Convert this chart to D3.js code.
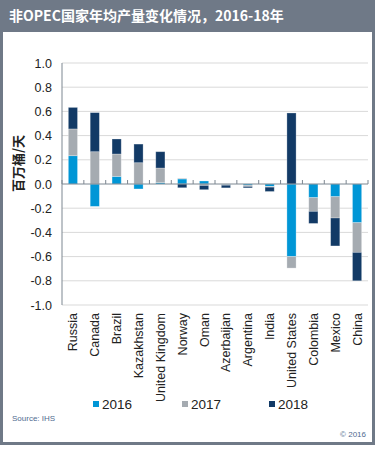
<!DOCTYPE html>
<html>
<head>
    <meta charset="utf-8">
    <script src="https://d3js.org/d3.v7.min.js"></script>
    <style>
        body { margin: 0; background: #fff; }
        text { font-family: "Liberation Sans", Arial, "Noto Sans CJK SC", sans-serif; }
    </style>
</head>
<body>
    <svg id="chart"></svg>

    <script>
        // Data (million barrels per day)
        const countries = ["Russia", "Canada", "Brazil", "Kazakhstan", "United Kingdom", "Norway", "Oman",
            "Azerbaijan", "Argentina", "India", "United States", "Colombia", "Mexico", "China"];
        const years = ["2016", "2017", "2018"];
        const v2016 = [0.234, -0.185, 0.063, -0.041, 0.011, 0.042, 0.025, -0.004, -0.010, -0.020, -0.600, -0.113, -0.105, -0.320];
        const v2017 = [0.221, 0.267, 0.185, 0.176, 0.121, 0.005, -0.012, -0.006, -0.010, -0.006, -0.095, -0.113, -0.176, -0.245];
        const v2018 = [0.178, 0.323, 0.124, 0.154, 0.135, -0.031, -0.035, -0.022, -0.012, -0.036, 0.587, -0.100, -0.231, -0.235];
        const yTicks = [1.0, 0.8, 0.6, 0.4, 0.2, 0.0, -0.2, -0.4, -0.6, -0.8, -1.0];
        const colors = ["#0096d6", "#a5abb1", "#123a66"];

        const width = 377, height = 452;
        const svg = d3.select("#chart")
            .attr("width", width)
            .attr("height", height);

        // Frame and title bar
        const frameColor = "#6f7987";
        svg.append("rect")
            .attr("x", 1.5).attr("y", 1.5)
            .attr("width", 372).attr("height", 442)
            .attr("fill", "#fff")
            .attr("stroke", frameColor)
            .attr("stroke-width", 3);
        svg.append("rect")
            .attr("x", 0).attr("y", 0)
            .attr("width", 375).attr("height", 32)
            .attr("fill", frameColor);
        svg.append("text")
            .attr("x", 9).attr("y", 21)
            .attr("fill", "#fff")
            .style("font-size", "14px")
            .style("font-weight", "bold")
            .style("font-family", "'Noto Sans CJK SC', 'Liberation Sans', sans-serif")
            .text("非OPEC国家年均产量变化情况，2016-18年");

        // Scales
        const x = d3.scaleBand()
            .domain(countries)
            .range([62, 368])
            .paddingInner(0.58)
            .paddingOuter(0.29);
        const y = d3.scaleLinear()
            .domain([-1, 1])
            .range([305, 63]);

        // Gridlines
        svg.append("g")
            .selectAll("line")
            .data(yTicks.filter(d => d !== 0))
            .join("line")
                .attr("x1", 62).attr("x2", 368)
                .attr("y1", d => y(d)).attr("y2", d => y(d))
                .attr("stroke", "#d9d9d9")
                .attr("stroke-width", 1);

        // Y tick labels
        svg.append("g")
            .selectAll("text")
            .data(yTicks)
            .join("text")
                .attr("x", 52)
                .attr("y", d => y(d) + 4.5)
                .attr("text-anchor", "end")
                .style("font-size", "12.5px")
                .style("fill", "#222")
                .text(d => d.toFixed(1));

        // Y axis title
        svg.append("text")
            .attr("transform", `translate(23, ${y(0.17)}) rotate(-90)`)
            .attr("text-anchor", "middle")
            .style("font-size", "13px")
            .style("font-weight", "bold")
            .style("font-family", "'Noto Sans CJK SC', sans-serif")
            .style("fill", "#222")
            .text("百万桶/天");

        // Stacked bars (positive and negative stacked separately)
        const table = countries.map((c, i) => ({ country: c, "2016": v2016[i], "2017": v2017[i], "2018": v2018[i] }));
        const series = d3.stack()
            .keys(years)
            .offset(d3.stackOffsetDiverging)(table);

        svg.append("g")
            .selectAll("g")
            .data(series)
            .join("g")
                .attr("fill", (d, i) => colors[i])
            .selectAll("rect")
            .data(d => d)
            .join("rect")
                .attr("x", d => x(d.data.country))
                .attr("width", x.bandwidth())
                .attr("y", d => y(Math.max(d[0], d[1])))
                .attr("height", d => Math.abs(y(d[0]) - y(d[1])))
                .attr("stroke", "#ffffff")
                .attr("stroke-opacity", 0.35)
                .attr("stroke-width", 0.8);

        // Axes lines
        const axisColor = "#7d8791";
        svg.append("line")
            .attr("x1", 62).attr("x2", 62)
            .attr("y1", 63).attr("y2", 305)
            .attr("stroke", axisColor);
        svg.append("line")
            .attr("x1", 62).attr("x2", 368)
            .attr("y1", y(0)).attr("y2", y(0))
            .attr("stroke", axisColor);
        svg.append("g")
            .selectAll("line")
            .data(d3.range(countries.length + 1))
            .join("line")
                .attr("x1", i => 62 + i * x.step())
                .attr("x2", i => 62 + i * x.step())
                .attr("y1", y(0)).attr("y2", y(0) - 4)
                .attr("stroke", axisColor);

        // Category labels
        svg.append("g")
            .selectAll("text")
            .data(countries)
            .join("text")
                .attr("transform", d => `translate(${x(d) + x.bandwidth() / 2 + 4.5}, 313) rotate(-90)`)
                .attr("text-anchor", "end")
                .style("font-size", "12.5px")
                .style("fill", "#222")
                .text(d => d);

        // Legend
        const legendX = [93, 182, 269];
        const legend = svg.append("g")
            .selectAll("g")
            .data(years)
            .join("g")
                .attr("transform", (d, i) => `translate(${legendX[i]}, 404)`);
        legend.append("rect")
            .attr("x", 0).attr("y", -3)
            .attr("width", 6).attr("height", 6)
            .attr("fill", (d, i) => colors[i]);
        legend.append("text")
            .attr("x", 9).attr("y", 5)
            .style("font-size", "13.5px")
            .style("fill", "#222")
            .text(d => d);

        // Source and copyright
        svg.append("text")
            .attr("x", 12).attr("y", 421)
            .style("font-size", "8px")
            .style("fill", "#4f6b8f")
            .text("Source: IHS");
        svg.append("text")
            .attr("x", 366).attr("y", 437)
            .attr("text-anchor", "end")
            .style("font-size", "8px")
            .style("fill", "#4f6b8f")
            .text("© 2016");
    </script>
</body>
</html>
